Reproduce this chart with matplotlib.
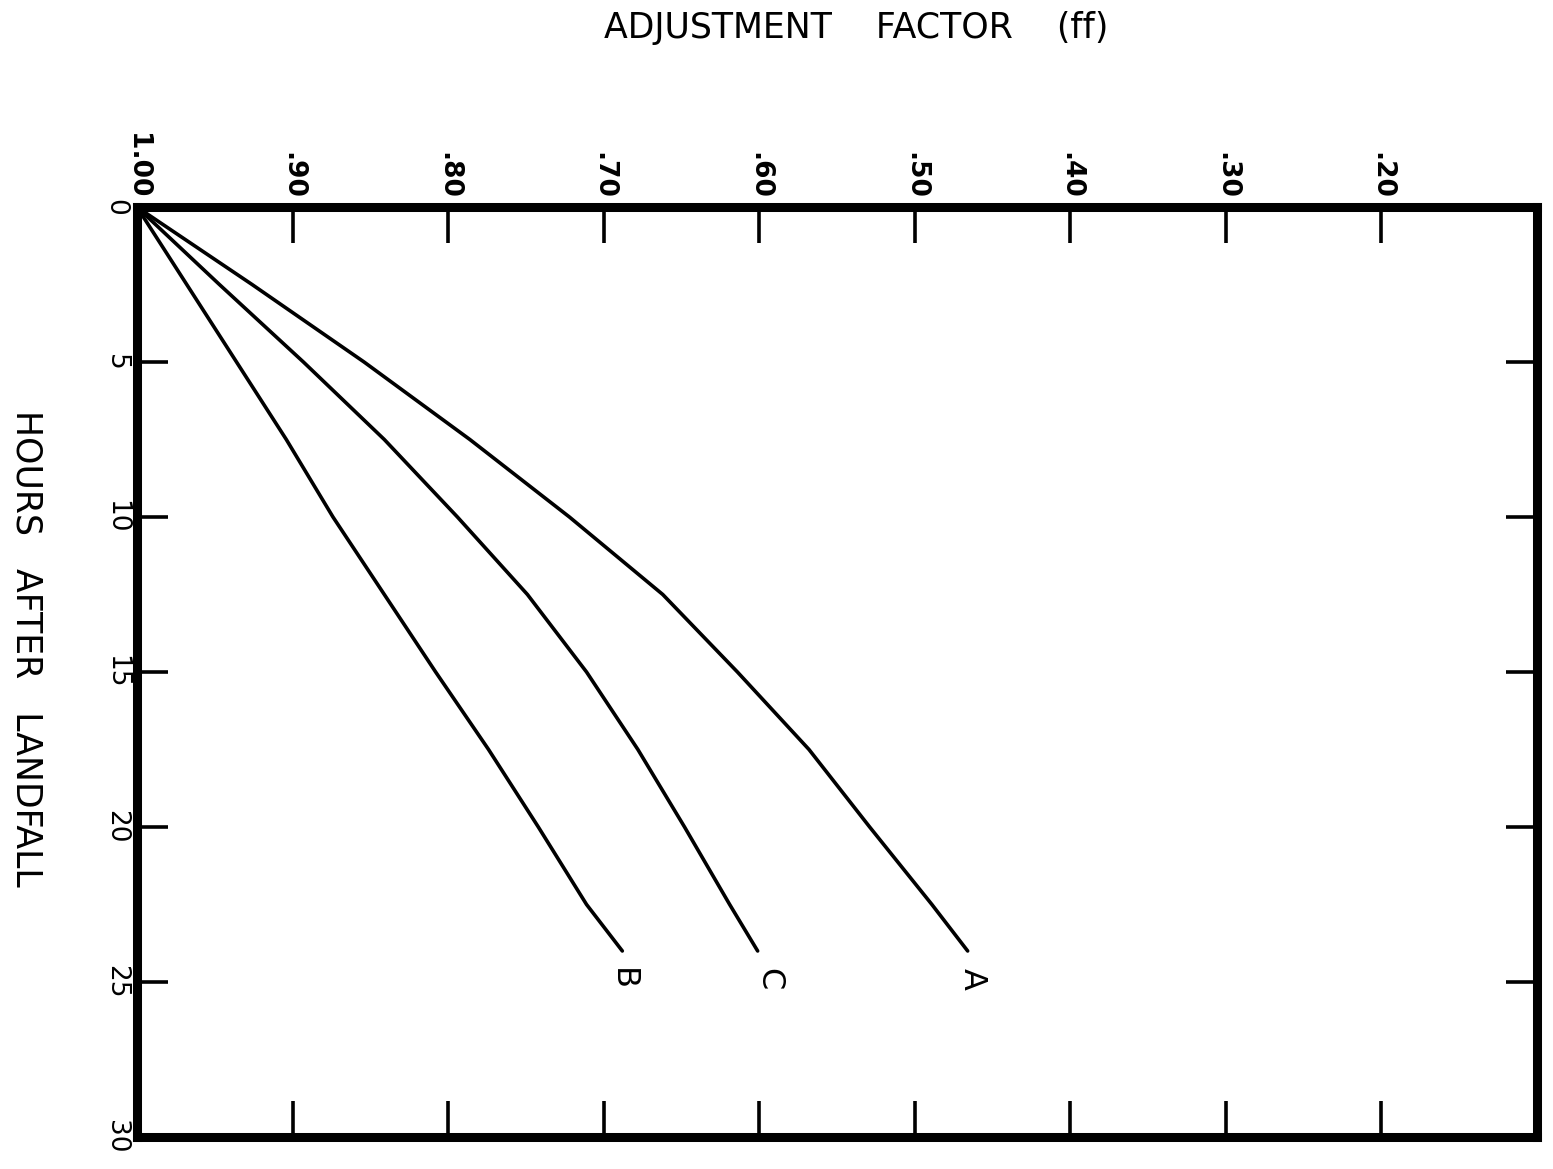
import numpy as np
import matplotlib
matplotlib.use("Agg")
import matplotlib.pyplot as plt

# hours after landfall
hours = [0, 2.5, 5, 7.5, 10, 12.5, 15, 17.5, 20, 22.5, 24]

# adjustment factor for each curve
curve_a = [1.00, 0.926, 0.854, 0.786, 0.722, 0.662, 0.614, 0.568, 0.529, 0.489, 0.466]
curve_c = [1.00, 0.947, 0.893, 0.841, 0.794, 0.749, 0.711, 0.678, 0.648, 0.619, 0.601]
curve_b = [1.00, 0.968, 0.936, 0.904, 0.874, 0.841, 0.808, 0.774, 0.742, 0.711, 0.688]

curve_names = ["A", "C", "B"]
label_x = [0.463, 0.594, 0.688]
label_hour = 24.9

x_ticks = [1.00, 0.90, 0.80, 0.70, 0.60, 0.50, 0.40, 0.30, 0.20]
x_ticklabels = ["1.00", ".90", ".80", ".70", ".60", ".50", ".40", ".30", ".20"]
y_ticks = [0, 5, 10, 15, 20, 25, 30]

plt.rcParams['font.family'] = ['DejaVu Sans']

fig = plt.figure(figsize=(15.53, 11.69), dpi=100)
ax = fig.add_axes([0.0882, 0.0274, 0.9015, 0.7955])

for vals in (curve_a, curve_c, curve_b):
    ax.plot(vals, hours, color='black', lw=2.6, solid_capstyle='round',
            solid_joinstyle='round')

for name, lx in zip(curve_names, label_x):
    ax.text(lx, label_hour, name, rotation=270, fontsize=23,
            ha='center', va='center')

ax.set_xlim(1.00, 0.10)
ax.set_ylim(30, 0)

ax.xaxis.tick_top()
ax.set_xticks(x_ticks)
ax.set_xticklabels(x_ticklabels, rotation=270, fontsize=19, fontweight='bold')
ax.set_yticks(y_ticks)
ax.set_yticklabels([str(v) for v in y_ticks], rotation=270, fontsize=19,
                   va='center')

ax.tick_params(axis='x', which='both', top=True, bottom=True,
               labeltop=True, labelbottom=False, direction='in',
               length=26, width=2.6, pad=6)
ax.tick_params(axis='y', which='both', left=True, right=True,
               labelleft=True, labelright=False, direction='in',
               length=22, width=2.6, pad=6)

for sp in ax.spines.values():
    sp.set_linewidth(6.5)
    sp.set_capstyle('projecting')

fig.text(0.551, 0.976, "ADJUSTMENT    FACTOR    (ff)", fontsize=25,
         ha='center', va='center')
fig.text(0.017, 0.445, "HOURS   AFTER   LANDFALL", fontsize=25,
         rotation=270, ha='center', va='center')

fig.savefig("out.png", dpi=100, facecolor='white')
